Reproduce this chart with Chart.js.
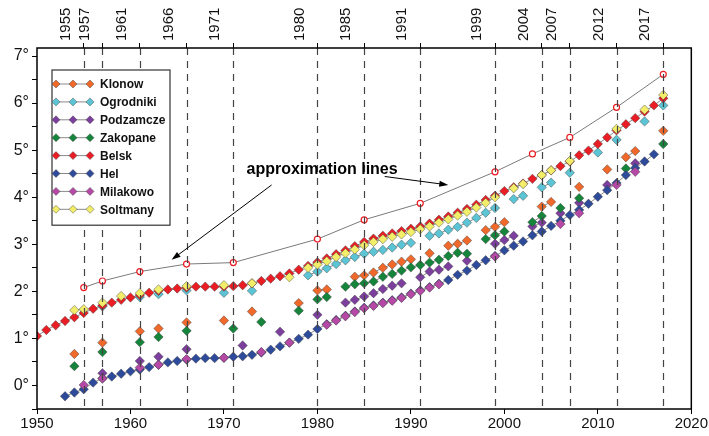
<!DOCTYPE html>
<html>
<head>
<meta charset="utf-8">
<script src="https://cdn.jsdelivr.net/npm/chart.js@4.4.0/dist/chart.umd.min.js"></script>
<style>
  html, body { margin: 0; padding: 0; background: #fff; }
  #wrap { width: 709px; height: 436px; }
</style>
</head>
<body>
<div id="wrap"><canvas id="chart" width="709" height="436"></canvas></div>
<script>
// station names and marker colours (legend order)
const seriesNames = ['Klonow', 'Ogrodniki', 'Podzamcze', 'Zakopane', 'Belsk', 'Hel', 'Milakowo', 'Soltmany'];
const seriesColors = ['#f0682a', '#5bc5d5', '#7c3f9e', '#14853b', '#ea1d25', '#2e4b9b', '#b649a6', '#f2ee6a'];

// years marked with dashed lines on the top axis
const markYears = [1955, 1957, 1961, 1966, 1971, 1980, 1985, 1991, 1999, 2004, 2007, 2012, 2017];
const xBottomTicks = [1950, 1960, 1970, 1980, 1990, 2000, 2010, 2020];
const yTickValues = [-0.5, 0, 0.5, 1, 1.5, 2, 2.5, 3, 3.5, 4, 4.5, 5, 5.5, 6, 6.5, 7];

// approximation line (upper envelope)
const approxYears = [1955, 1957, 1961, 1966, 1971, 1980, 1985, 1991, 1999, 2003, 2007, 2012, 2017];
const approxValues = [2.08, 2.22, 2.42, 2.58, 2.61, 3.11, 3.52, 3.87, 4.54, 4.92, 5.27, 5.91, 6.61];

function range(a, b) {
    const out = [];
    for (let y = a; y <= b; y++) out.push(y);
    return out;
}

const klonowYears = [1954, 1957, 1961, 1963, 1966, 1970, 1973, 1978, 1980, 1981, 1984, 1985, 1986, 1987, 1988, 1989, 1990, 1992, 1994, 1995, 1996, 1998, 1999, 2000, 2004, 2005, 2008, 2011, 2013, 2014, 2017];
const klonowValues = [0.67, 0.91, 1.15, 1.21, 1.34, 1.38, 1.57, 1.75, 2.02, 2.04, 2.31, 2.34, 2.40, 2.50, 2.57, 2.63, 2.68, 2.81, 2.97, 3.01, 3.08, 3.30, 3.37, 3.47, 3.80, 3.90, 4.22, 4.59, 4.85, 4.98, 5.41];

const ogrodnikiYears = [1957, 1961, 1963, 1966, 1970, 1973, 1979, 1980, 1981, 1982, 1983, 1984, 1985, 1986, 1987, 1988, 1989, 1990, 1992, 1993, 1994, 1995, 1996, 1997, 1998, 1999, 2001, 2002, 2004, 2005, 2007, 2010, 2012, 2015, 2017];
const ogrodnikiValues = [1.68, 1.88, 1.94, 2.02, 1.97, 2.01, 2.34, 2.42, 2.49, 2.58, 2.66, 2.73, 2.80, 2.84, 2.88, 2.93, 2.99, 3.03, 3.18, 3.23, 3.31, 3.37, 3.46, 3.56, 3.67, 3.77, 3.96, 4.03, 4.21, 4.31, 4.52, 4.95, 5.22, 5.61, 5.95];

const podzamczeYears = [1957, 1961, 1963, 1966, 1972, 1976, 1980, 1983, 1984, 1985, 1986, 1987, 1988, 1989, 1991, 1992, 1993, 1994, 1996, 1999, 2000, 2001, 2003, 2004, 2006, 2008, 2011, 2014];
const podzamczeValues = [0.26, 0.52, 0.61, 0.77, 0.85, 1.14, 1.50, 1.76, 1.82, 1.89, 1.96, 2.05, 2.12, 2.17, 2.30, 2.42, 2.46, 2.53, 2.65, 3.01, 3.09, 3.18, 3.38, 3.46, 3.66, 3.88, 4.26, 4.72];

const zakopaneYears = [1954, 1957, 1961, 1963, 1966, 1971, 1974, 1978, 1980, 1981, 1983, 1984, 1985, 1986, 1987, 1988, 1989, 1990, 1991, 1992, 1993, 1994, 1995, 1996, 1998, 1999, 2000, 2003, 2004, 2006, 2008, 2013, 2017];
const zakopaneValues = [0.41, 0.71, 0.92, 1.03, 1.16, 1.21, 1.35, 1.59, 1.83, 1.88, 2.10, 2.15, 2.17, 2.21, 2.31, 2.37, 2.44, 2.51, 2.56, 2.61, 2.67, 2.75, 2.82, 2.80, 3.11, 3.19, 3.27, 3.47, 3.60, 3.77, 3.98, 4.61, 5.13];

const belskYears = range(1950, 2017);
const belskValues = [
    1.05, 1.18, 1.28, 1.37, 1.45, 1.54, 1.63, 1.70, 1.76, 1.82,
    1.87, 1.92, 1.97, 2.01, 2.04, 2.06, 2.08, 2.10, 2.10, 2.10,
    2.10, 2.11, 2.13, 2.17, 2.22, 2.27, 2.32, 2.38, 2.46, 2.54,
    2.62, 2.70, 2.79, 2.87, 2.96, 3.05, 3.12, 3.18, 3.23, 3.28,
    3.33, 3.38, 3.44, 3.52, 3.59, 3.67, 3.75, 3.84, 3.94, 4.03,
    4.13, 4.21, 4.29, 4.39, 4.47, 4.57, 4.66, 4.76, 4.89, 4.99,
    5.13, 5.27, 5.42, 5.55, 5.68, 5.82, 5.95, 6.10
];

const helYears = range(1953, 2016);
const helValues = [
    -0.23, -0.15, -0.08, 0.06, 0.15, 0.19, 0.25,
    0.30, 0.34, 0.39, 0.44, 0.49, 0.52, 0.55, 0.57, 0.58, 0.58,
    0.59, 0.61, 0.62, 0.65, 0.70, 0.76, 0.83, 0.91, 0.99, 1.08,
    1.20, 1.30, 1.39, 1.48, 1.57, 1.65, 1.70, 1.76, 1.81, 1.87,
    1.95, 2.02, 2.09, 2.16, 2.24, 2.35, 2.44, 2.56, 2.66, 2.75,
    2.87, 2.97, 3.06, 3.19, 3.27, 3.39, 3.50, 3.62, 3.73, 3.86,
    4.01, 4.15, 4.30, 4.47, 4.62, 4.76, 4.91
];

const milakowoYears = [1955, 1957, 1961, 1963, 1966, 1970, 1974, 1977, 1981, 1982, 1983, 1984, 1985, 1986, 1987, 1988, 1989, 1990, 1991, 1992, 1993, 1999, 2006, 2008, 2012, 2014];
const milakowoValues = [0.01, 0.15, 0.38, 0.44, 0.56, 0.59, 0.71, 0.91, 1.29, 1.38, 1.47, 1.56, 1.64, 1.69, 1.75, 1.80, 1.86, 1.94, 2.01, 2.08, 2.15, 2.74, 3.43, 3.66, 4.26, 4.54];

const soltmanyYears = [1954, 1955, 1957, 1959, 1961, 1963, 1966, 1970, 1973, 1977, 1979, 1980, 1981, 1982, 1983, 1984, 1985, 1986, 1987, 1988, 1989, 1990, 1991, 1992, 1993, 1994, 1995, 1996, 1997, 1998, 1999, 2001, 2002, 2004, 2005, 2007, 2012, 2015, 2017];
const soltmanyValues = [1.60, 1.62, 1.76, 1.90, 1.96, 2.04, 2.11, 2.13, 2.17, 2.30, 2.50, 2.57, 2.64, 2.73, 2.81, 2.89, 2.98, 3.05, 3.11, 3.16, 3.21, 3.26, 3.32, 3.38, 3.46, 3.53, 3.61, 3.69, 3.78, 3.88, 4.00, 4.19, 4.28, 4.47, 4.57, 4.77, 5.45, 5.86, 6.17];

const seriesYears = [klonowYears, ogrodnikiYears, podzamczeYears, zakopaneYears, belskYears, helYears, milakowoYears, soltmanyYears];
const seriesValues = [klonowValues, ogrodnikiValues, podzamczeValues, zakopaneValues, belskValues, helValues, milakowoValues, soltmanyValues];

// annotation text and arrows, in data units (year, degrees)
const noteText = 'approximation lines';
const notePos = [1980.5, 4.58];
const arrows = [
    { from: [1975.1, 4.26], to: [1964.4, 2.67] },
    { from: [1987.2, 4.44], to: [1994.0, 4.26] }
];

const FONT = '"Liberation Sans", Arial, sans-serif';

// consecutive years are joined by a thin line, gaps break it
function toPoints(years, values) {
    const pts = [];
    years.forEach((yr, i) => {
        if (i > 0 && yr - years[i - 1] > 1) pts.push({ x: yr - 0.5, y: null });
        pts.push({ x: yr, y: values[i] });
    });
    return pts;
}

const datasets = seriesNames.map((name, i) => ({
    label: name,
    data: toPoints(seriesYears[i], seriesValues[i]),
    borderColor: '#8a8a8a',
    borderWidth: 1,
    pointStyle: 'rectRot',
    pointRadius: 4.7,
    pointBackgroundColor: seriesColors[i],
    pointBorderColor: 'rgba(60,60,60,0.75)',
    pointBorderWidth: 0.6,
    spanGaps: false,
    order: 20 - i
}));

datasets.push({
    label: 'approximation',
    data: approxYears.map((yr, i) => ({ x: yr, y: approxValues[i] })),
    borderColor: '#7a7a7a',
    borderWidth: 1,
    pointStyle: 'circle',
    pointRadius: 3,
    pointBackgroundColor: '#fff',
    pointBorderColor: '#ea1d25',
    pointBorderWidth: 1.2,
    order: 1
});

// dashed verticals, frame, annotation and legend
const decorations = {
    id: 'decorations',
    afterDatasetsDraw(chart) {
        const { ctx, chartArea: a, scales } = chart;
        const xs = scales.x, ys = scales.y;
        ctx.save();
        ctx.strokeStyle = '#444';
        ctx.lineWidth = 1.2;
        ctx.setLineDash([7, 6]);
        markYears.forEach(yr => {
            const px = Math.round(xs.getPixelForValue(yr)) + 0.5;
            ctx.beginPath();
            ctx.moveTo(px, a.top);
            ctx.lineTo(px, a.bottom);
            ctx.stroke();
        });
        ctx.setLineDash([]);

        // note + arrows
        ctx.fillStyle = '#000';
        ctx.font = 'bold 16px ' + FONT;
        ctx.textAlign = 'center';
        ctx.textBaseline = 'middle';
        ctx.fillText(noteText, xs.getPixelForValue(notePos[0]), ys.getPixelForValue(notePos[1]));
        ctx.strokeStyle = '#000';
        ctx.lineWidth = 1;
        arrows.forEach(ar => {
            const x1 = xs.getPixelForValue(ar.from[0]), y1 = ys.getPixelForValue(ar.from[1]);
            const x2 = xs.getPixelForValue(ar.to[0]), y2 = ys.getPixelForValue(ar.to[1]);
            const ang = Math.atan2(y2 - y1, x2 - x1);
            ctx.beginPath();
            ctx.moveTo(x1, y1);
            ctx.lineTo(x2 - 6 * Math.cos(ang), y2 - 6 * Math.sin(ang));
            ctx.stroke();
            ctx.beginPath();
            ctx.moveTo(x2, y2);
            ctx.lineTo(x2 - 9 * Math.cos(ang) + 3 * Math.sin(ang), y2 - 9 * Math.sin(ang) - 3 * Math.cos(ang));
            ctx.lineTo(x2 - 9 * Math.cos(ang) - 3 * Math.sin(ang), y2 - 9 * Math.sin(ang) + 3 * Math.cos(ang));
            ctx.closePath();
            ctx.fill();
        });

        // frame
        ctx.strokeStyle = '#000';
        ctx.lineWidth = 1.5;
        ctx.strokeRect(a.left, a.top, a.right - a.left, a.bottom - a.top);

        // legend box
        const lx = a.left + 15, ly = a.top + 22, lw = 118, rowH = 17.9;
        const lh = rowH * seriesNames.length + 12;
        ctx.fillStyle = '#fff';
        ctx.fillRect(lx, ly, lw, lh);
        ctx.strokeStyle = '#333';
        ctx.lineWidth = 1.2;
        ctx.strokeRect(lx, ly, lw, lh);
        ctx.font = 'bold 12px ' + FONT;
        ctx.textAlign = 'left';
        ctx.textBaseline = 'middle';
        seriesNames.forEach((name, i) => {
            const cy = ly + 14 + i * rowH;
            ctx.strokeStyle = '#8a8a8a';
            ctx.lineWidth = 1;
            ctx.beginPath();
            ctx.moveTo(lx + 4, cy);
            ctx.lineTo(lx + 38, cy);
            ctx.stroke();
            [4, 21, 38].forEach(dx => {
                const cx = lx + dx, r = 4;
                ctx.beginPath();
                ctx.moveTo(cx, cy - r);
                ctx.lineTo(cx + r, cy);
                ctx.lineTo(cx, cy + r);
                ctx.lineTo(cx - r, cy);
                ctx.closePath();
                ctx.fillStyle = seriesColors[i];
                ctx.fill();
                ctx.strokeStyle = 'rgba(60,60,60,0.75)';
                ctx.lineWidth = 0.6;
                ctx.stroke();
            });
            ctx.fillStyle = '#111';
            ctx.fillText(name, lx + 48, cy + 1);
        });
        ctx.restore();
    }
};

const axisFont = { family: FONT, size: 15 };
const plainYear = v => String(v);

new Chart(document.getElementById('chart'), {
    type: 'line',
    data: { datasets },
    options: {
        responsive: false,
        animation: false,
        layout: { padding: { left: 0, right: 17, top: 0, bottom: 0 } },
        plugins: { legend: { display: false }, tooltip: { enabled: false } },
        scales: {
            x: {
                type: 'linear',
                position: 'bottom',
                min: 1950,
                max: 2020,
                afterBuildTicks: s => { s.ticks = xBottomTicks.map(v => ({ value: v })); },
                afterFit: s => { s.height = 27; },
                ticks: { font: axisFont, color: '#111', padding: 1, maxRotation: 0, autoSkip: false, callback: plainYear },
                grid: { drawOnChartArea: false, tickLength: 5, color: '#000' },
                border: { display: false }
            },
            xTop: {
                type: 'linear',
                position: 'top',
                min: 1950,
                max: 2020,
                afterBuildTicks: s => { s.ticks = markYears.map(v => ({ value: v })); },
                afterFit: s => { s.height = 48; },
                ticks: { font: axisFont, color: '#111', padding: 2, minRotation: 90, maxRotation: 90, autoSkip: false, callback: plainYear },
                grid: { drawOnChartArea: false, tickLength: 5, color: '#000' },
                border: { display: false }
            },
            y: {
                min: -0.5,
                max: 7.17,
                afterBuildTicks: s => { s.ticks = yTickValues.map(v => ({ value: v })); },
                afterFit: s => { s.width = 37; },
                ticks: {
                    font: { family: FONT, size: 16 },
                    color: '#111',
                    padding: 3,
                    callback: v => Number.isInteger(v) ? v + '°' : ''
                },
                grid: { drawOnChartArea: false, tickLength: 5, color: '#000' },
                border: { display: false }
            }
        }
    },
    plugins: [decorations]
});
</script>
</body>
</html>
